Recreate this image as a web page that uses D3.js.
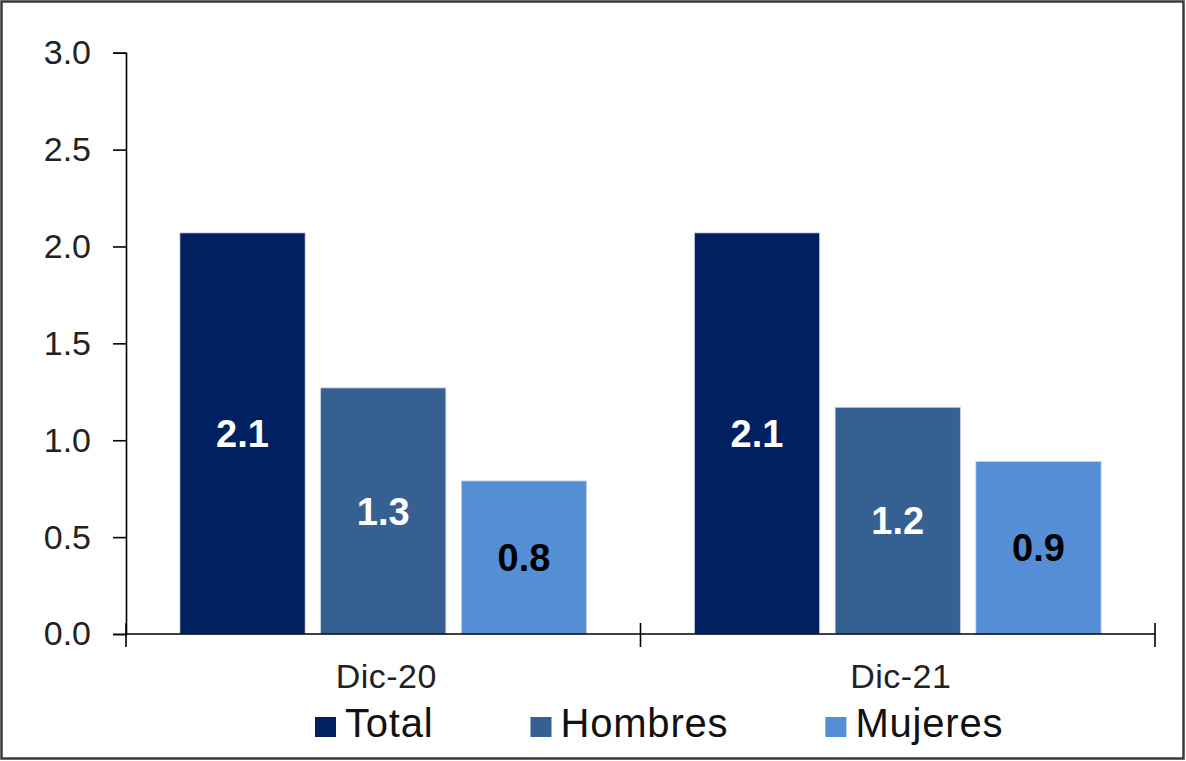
<!DOCTYPE html>
<html>
<head>
<meta charset="utf-8">
<script src="https://cdn.jsdelivr.net/npm/d3@7"></script>
<style>
  body { margin: 0; background: #fff; }
  svg { display: block; font-family: "Liberation Sans", Arial, sans-serif; }
</style>
</head>
<body>
<div id="chart"></div>
<script>
// data
var categories = ["Dic-20", "Dic-21"];
var seriesNames = ["Total", "Hombres", "Mujeres"];
var total = [2.07, 2.07];
var hombres = [1.27, 1.17];
var mujeres = [0.79, 0.89];
var yTicks = [0, 0.5, 1, 1.5, 2, 2.5, 3];

var colors = ["#002060", "#376092", "#558ed5"];
var labelColors = ["#fff", "#fff", "#000"];

var W = 1186, H = 761;
var plotLeft = 126, plotRight = 1155, plotTop = 52.7, plotBottom = 634;

var svg = d3.select("#chart").append("svg")
  .attr("width", W)
  .attr("height", H);

svg.append("rect")
  .attr("x", 1.5).attr("y", 1.5)
  .attr("width", 1182).attr("height", 757)
  .attr("fill", "#fff")
  .attr("stroke", "#3a3a3a")
  .attr("stroke-width", 2.5);

var y = d3.scaleLinear().domain([0, 3]).range([plotBottom, plotTop]);
var x0 = d3.scaleBand().domain(categories).range([plotLeft, plotRight]);
var x1 = d3.scaleBand().domain(seriesNames)
  .range([0, x0.bandwidth()])
  .paddingInner(0.11)
  .paddingOuter(0.383);

var rows = categories.map(function (c, i) {
  return { cat: c, vals: [total[i], hombres[i], mujeres[i]] };
});

// bars
var groups = svg.selectAll("g.grp")
  .data(rows)
  .enter().append("g")
  .attr("class", "grp")
  .attr("transform", function (d) { return "translate(" + x0(d.cat) + ",0)"; });

groups.selectAll("rect")
  .data(function (d) { return d.vals.map(function (v, k) { return { k: k, v: v }; }); })
  .enter().append("rect")
  .attr("x", function (d) { return x1(seriesNames[d.k]); })
  .attr("y", function (d) { return y(d.v); })
  .attr("width", x1.bandwidth())
  .attr("height", function (d) { return y(0) - y(d.v); })
  .attr("fill", function (d) { return colors[d.k]; })
  .attr("stroke", "#c9d3e6")
  .attr("stroke-width", 0.8);

groups.selectAll("text")
  .data(function (d) { return d.vals.map(function (v, k) { return { k: k, v: v }; }); })
  .enter().append("text")
  .attr("x", function (d) { return x1(seriesNames[d.k]) + x1.bandwidth() / 2; })
  .attr("y", function (d) { return (y(d.v) + y(0)) / 2; })
  .attr("dy", "0.36em")
  .attr("text-anchor", "middle")
  .attr("font-size", 38)
  .attr("font-weight", "bold")
  .attr("fill", function (d) { return labelColors[d.k]; })
  .text(function (d) { return d3.format(".1f")(d.v); });

// y axis
var yAxis = d3.axisLeft(y)
  .tickValues(yTicks)
  .tickSize(13)
  .tickPadding(22)
  .tickFormat(d3.format(".1f"));

var gy = svg.append("g")
  .attr("transform", "translate(" + plotLeft + ",0)")
  .call(yAxis);
gy.select(".domain").attr("stroke", "#000").attr("stroke-width", 1.6);
gy.selectAll(".tick line").attr("stroke", "#000").attr("stroke-width", 1.6);
gy.selectAll(".tick text")
  .attr("font-size", 34)
  .attr("fill", "#222")
  .attr("font-family", "Liberation Sans, Arial, sans-serif");

// x axis line and crossing ticks at band edges
svg.append("line")
  .attr("x1", plotLeft).attr("x2", plotRight)
  .attr("y1", y(0)).attr("y2", y(0))
  .attr("stroke", "#000").attr("stroke-width", 1.6);

var edges = [x0(categories[0])].concat(categories.map(function (c) { return x0(c) + x0.bandwidth(); }));
svg.selectAll("line.xtick")
  .data(edges)
  .enter().append("line")
  .attr("class", "xtick")
  .attr("x1", function (d) { return d; })
  .attr("x2", function (d) { return d; })
  .attr("y1", y(0) - 11)
  .attr("y2", y(0) + 13)
  .attr("stroke", "#000")
  .attr("stroke-width", 1.6);

svg.selectAll("text.cat")
  .data(categories)
  .enter().append("text")
  .attr("class", "cat")
  .attr("x", function (d) { return x0(d) + x0.bandwidth() / 2 + 3; })
  .attr("y", 688)
  .attr("text-anchor", "middle")
  .attr("font-size", 34)
  .attr("letter-spacing", 0.5)
  .attr("fill", "#222")
  .text(function (d) { return d; });

// legend
var legend = svg.append("g");
var lx = 315;
seriesNames.forEach(function (name, k) {
  legend.append("rect")
    .attr("x", lx).attr("y", 717)
    .attr("width", 21).attr("height", 20)
    .attr("fill", colors[k]);
  var t = legend.append("text")
    .attr("x", lx + 30)
    .attr("y", 737)
    .attr("font-size", 40)
    .attr("letter-spacing", 0.8)
    .attr("fill", "#111")
    .text(name);
  lx += 30 + t.node().getComputedTextLength() + 97;
});
</script>
</body>
</html>
